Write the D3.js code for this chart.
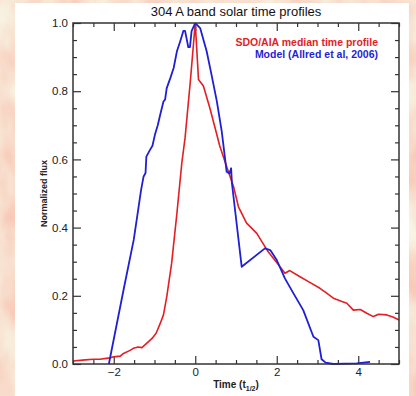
<!DOCTYPE html>
<html>
<head>
<meta charset="utf-8">
<script src="https://cdn.jsdelivr.net/npm/d3@7"></script>
<style>
  body { margin: 0; }
  text { font-family: "Liberation Sans", Arial, sans-serif; }
</style>
</head>
<body>
<script>
var outerWidth = 416, outerHeight = 396;

var margin = { top: 23, right: 17, bottom: 32, left: 73 };   // plot frame inside the white panel

var width = outerWidth - margin.left - margin.right,
  height = outerHeight - margin.top - margin.bottom;

// SDO/AIA median time profile (red)
var aiaTime = [-3, -2.7, -2.5, -2.34, -2.1, -2.0, -1.84, -1.76, -1.6, -1.52, -1.4, -1.31, -1.2, -1.06, -0.96,
  -0.86, -0.78, -0.7, -0.58, -0.45, -0.33, -0.25, -0.12, 0, 0.08, 0.2, 0.36, 0.5, 0.6, 0.77, 0.94, 1.06,
  1.26, 1.51, 1.79, 2.08, 2.2, 2.32, 2.57, 2.8, 3.06, 3.2, 3.39, 3.6, 3.72, 3.88, 4.05, 4.21, 4.37, 4.5,
  4.7, 4.85, 5];
var aiaFlux = [0.009, 0.012, 0.014, 0.014, 0.018, 0.021, 0.023, 0.031, 0.04, 0.046, 0.05, 0.048, 0.06, 0.075, 0.09,
  0.119, 0.144, 0.197, 0.295, 0.442, 0.589, 0.663, 0.83, 1.0, 0.834, 0.815, 0.75, 0.686, 0.64, 0.579, 0.52, 0.461,
  0.413, 0.383, 0.329, 0.285, 0.266, 0.274, 0.256, 0.24, 0.222, 0.21, 0.193, 0.183, 0.178, 0.158, 0.16, 0.149, 0.139, 0.146,
  0.144, 0.138, 0.129];

// Model (Allred et al, 2006) (blue)
var modelTime = [-2.12, -1.76, -1.51, -1.39, -1.33, -1.27, -1.22, -1.2, -1.11, -1.05, -0.99, -0.92, -0.86, -0.78,
  -0.74, -0.7, -0.61, -0.53, -0.45, -0.37, -0.29, -0.25, -0.17, -0.13, -0.09, 0, 0.12, 0.28, 0.4, 0.53, 0.65,
  0.77, 0.84, 0.88, 0.9, 1.14, 1.71, 1.84, 2.0, 2.2, 2.41, 2.65, 2.9, 3.02, 3.1, 3.2, 3.39, 3.96, 4.29];
var modelFlux = [0, 0.217, 0.364, 0.461, 0.51, 0.549, 0.56, 0.608, 0.628, 0.64, 0.672, 0.70, 0.731, 0.77,
  0.775, 0.809, 0.839, 0.868, 0.917, 0.946, 0.977, 0.977, 0.929, 0.929, 0.976, 1.0, 0.985, 0.917, 0.848, 0.77, 0.682,
  0.564, 0.559, 0.574, 0.53, 0.285, 0.339, 0.334, 0.305, 0.251, 0.207, 0.158, 0.08, 0.07, 0.014, 0.004, 0, 0.002, 0.006];

var xMajor = [-2, 0, 2, 4];
var yMajor = [0, 0.2, 0.4, 0.6, 0.8, 1.0];
var legendLabels = ["SDO/AIA median time profile", "Model (Allred et al, 2006)"];
var legendColors = ["#e31e24", "#1f1fd6"];

function zip(t, v) { return t.map(function (d, i) { return { x: d, y: v[i] }; }); }

var x = d3.scaleLinear().domain([-3, 5]).range([0, width]);
var y = d3.scaleLinear().domain([0, 1]).range([height, 0]);

var line = d3.line()
  .x(function (d) { return x(d.x); })
  .y(function (d) { return y(d.y); });

var svg = d3.select("body").append("svg")
  .attr("width", outerWidth)
  .attr("height", outerHeight);

// mottled orange slide background
var defs = svg.append("defs");
var f = defs.append("filter").attr("id", "tex").attr("x", 0).attr("y", 0).attr("width", 1).attr("height", 1);
f.append("feTurbulence").attr("type", "fractalNoise").attr("baseFrequency", "0.035 0.02")
  .attr("numOctaves", 3).attr("seed", 4).attr("result", "n");
f.append("feColorMatrix").attr("in", "n").attr("type", "matrix")
  .attr("values", "0 0 0 0 0.96  0.6 0 0 0 0.5  0.55 0 0 0 0.42  0 0 0 0 1");

svg.append("rect").attr("width", outerWidth).attr("height", outerHeight).attr("fill", "#f1bf9c");
svg.append("rect").attr("width", outerWidth).attr("height", outerHeight).attr("filter", "url(#tex)").attr("opacity", 0.85);

svg.append("rect")                       // white panel
  .attr("x", 15).attr("y", 3)
  .attr("width", 394).attr("height", outerHeight - 3)
  .attr("fill", "#fff");

var g = svg.append("g")
  .attr("transform", "translate(" + margin.left + "," + margin.top + ")");

function minorTicks(lo, hi, step, major) {
  var out = [];
  for (var i = Math.round(lo / step); i <= Math.round(hi / step); i++) {
    var v = +(i * step).toFixed(3);
    if (major.indexOf(v) < 0) out.push(v);
  }
  return out;
}
var xMinor = minorTicks(-3, 5, 0.5, xMajor);
var yMinor = minorTicks(0, 1, 0.05, yMajor);

function styleAxis(sel) {
  sel.select(".domain").remove();
  sel.selectAll("line").attr("stroke", "#333").attr("stroke-width", 1.2);
  sel.selectAll("text").attr("fill", "#222").style("font-size", "11.5px");
}

// bottom
g.append("g").attr("transform", "translate(0," + height + ")")
  .call(d3.axisBottom(x).tickValues(xMajor).tickSize(-8).tickPadding(4)
    .tickFormat(function (d) { return d < 0 ? "\u2212" + Math.abs(d) : d; }))
  .call(styleAxis);
g.append("g").attr("transform", "translate(0," + height + ")")
  .call(d3.axisBottom(x).tickValues(xMinor).tickSize(-4).tickFormat(""))
  .call(styleAxis);
// top
g.append("g").call(d3.axisTop(x).tickValues(xMajor).tickSize(-8).tickFormat("")).call(styleAxis);
g.append("g").call(d3.axisTop(x).tickValues(xMinor).tickSize(-4).tickFormat("")).call(styleAxis);
// left
g.append("g")
  .call(d3.axisLeft(y).tickValues(yMajor).tickSize(-8).tickPadding(5).tickFormat(d3.format(".1f")))
  .call(styleAxis);
g.append("g").call(d3.axisLeft(y).tickValues(yMinor).tickSize(-4).tickFormat("")).call(styleAxis);
// right
g.append("g").attr("transform", "translate(" + width + ",0)")
  .call(d3.axisRight(y).tickValues(yMajor).tickSize(-8).tickFormat("")).call(styleAxis);
g.append("g").attr("transform", "translate(" + width + ",0)")
  .call(d3.axisRight(y).tickValues(yMinor).tickSize(-4).tickFormat("")).call(styleAxis);

var plot = g.append("g");
plot.append("clipPath").attr("id", "clip").append("rect").attr("width", width).attr("height", height + 1);

plot.append("path")
  .datum(zip(aiaTime, aiaFlux))
  .attr("d", line)
  .attr("clip-path", "url(#clip)")
  .style("fill", "none")
  .style("stroke", legendColors[0])
  .style("stroke-width", 1.6)
  .style("stroke-linejoin", "round");

plot.append("path")
  .datum(zip(modelTime, modelFlux))
  .attr("d", line)
  .attr("clip-path", "url(#clip)")
  .style("fill", "none")
  .style("stroke", legendColors[1])
  .style("stroke-width", 1.8)
  .style("stroke-linejoin", "round");

g.append("rect")                          // frame
  .attr("width", width).attr("height", height)
  .attr("fill", "none").attr("stroke", "#333").attr("stroke-width", 1.5);

// title and axis labels
svg.append("text")
  .attr("x", margin.left + width / 2).attr("y", 16)
  .attr("text-anchor", "middle")
  .style("font-size", "13px").attr("fill", "#111")
  .text("304 A band solar time profiles");

var xl = svg.append("text")
  .attr("x", margin.left + width / 2).attr("y", 388)
  .attr("text-anchor", "middle")
  .style("font-size", "10px").style("font-weight", "bold").attr("fill", "#222");
xl.append("tspan").text("Time (t");
xl.append("tspan").attr("dy", 3).style("font-size", "7px").text("1/2");
xl.append("tspan").attr("dy", -3).text(")");

svg.append("text")
  .attr("transform", "translate(47," + (margin.top + height / 2) + ") rotate(-90)")
  .attr("text-anchor", "middle")
  .style("font-size", "9px").style("font-weight", "bold").attr("fill", "#222")
  .text("Normalized flux");

// legend
svg.selectAll(".legend")
  .data(legendLabels)
  .enter().append("text")
  .attr("class", "legend")
  .attr("x", 378)
  .attr("y", function (d, i) { return 46 + i * 12; })
  .attr("text-anchor", "end")
  .style("font-size", "10.5px").style("font-weight", "bold")
  .attr("fill", function (d, i) { return legendColors[i]; })
  .text(function (d) { return d; });
</script>
</body>
</html>
